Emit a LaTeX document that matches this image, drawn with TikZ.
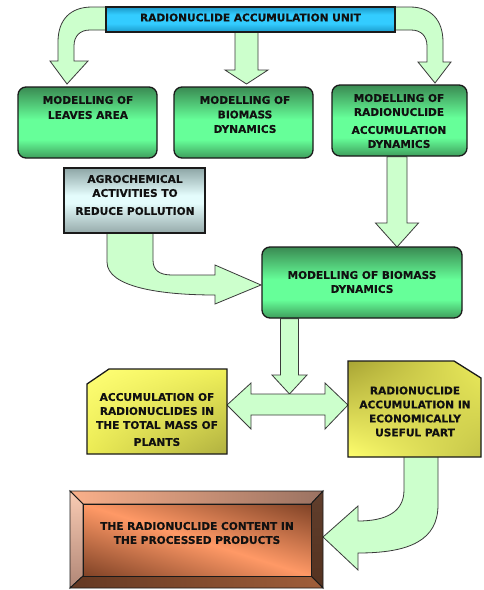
\documentclass[tikz,border=0pt]{standalone}
\usepackage{fontspec}
\setmainfont{DejaVu Sans}[BoldFeatures={FakeBold=0.3}]
\usetikzlibrary{calc,shadings}

% palette
\definecolor{arrowgreen}{HTML}{CCFFCC}
\definecolor{arrowedge}{HTML}{3A3A3A}
\definecolor{boxedge}{HTML}{1A1A1A}
\definecolor{textcol}{HTML}{111111}
\definecolor{gtop}{HTML}{3A8A52}
\definecolor{glight}{HTML}{66FF99}
\definecolor{gbot}{HTML}{3E9E5C}
\definecolor{btop}{HTML}{1B98C8}
\definecolor{blight}{HTML}{33CCFF}
\definecolor{bbot}{HTML}{1A9ACA}
\definecolor{atop}{HTML}{8EA6A6}
\definecolor{alight}{HTML}{E4FCFC}
\definecolor{abot}{HTML}{96AAAA}

% vertical shadings: path spans 25bp (bottom) .. 75bp (top)
\pgfdeclareverticalshading{greenshade}{100bp}{color(0bp)=(gbot); color(25bp)=(gbot);
  color(38bp)=(glight); color(52bp)=(glight); color(75bp)=(gtop); color(100bp)=(gtop)}
\pgfdeclareverticalshading{blueshade}{100bp}{color(0bp)=(bbot); color(25bp)=(bbot);
  color(42bp)=(blight); color(60bp)=(blight); color(75bp)=(btop); color(100bp)=(btop)}
\pgfdeclareverticalshading{agroshade}{100bp}{color(0bp)=(abot); color(25bp)=(abot);
  color(48bp)=(alight); color(54bp)=(alight); color(75bp)=(atop); color(100bp)=(atop)}

% copper panel: bright band along the falling diagonal, dark towards
% the upper right and lower left corners
\pgfdeclarefunctionalshading{coppershade}{\pgfpoint{0bp}{0bp}}{\pgfpoint{100bp}{100bp}}{}{%
  add 100 sub 50 div abs dup 1 gt {pop 1} if
  dup dup -0.5 mul 1 add 3 1 roll -0.34 mul 0.6 add exch -0.25 mul 0.4 add}

\pgfdeclarelayer{paper}
\pgfdeclarelayer{arrowlayer}
\pgfdeclarelayer{boxlayer}
\pgfsetlayers{paper,arrowlayer,boxlayer,main}

\newcommand{\boxfont}{\fontsize{10.6}{14}\selectfont\bfseries}

% straight downward block arrow: #1 start (gives y), #2 tip, #3 half shaft, #4 half head, #5 head length
\newcommand{\vblockarrow}[5]{%
  \path[blockarrow] let \p1=#1, \p2=#2 in
    (\x2-#3pt,\y1) -- (\x2-#3pt,\y2+#5pt) -- (\x2-#4pt,\y2+#5pt) -- (\x2,\y2)
    -- (\x2+#4pt,\y2+#5pt) -- (\x2+#3pt,\y2+#5pt) -- (\x2+#3pt,\y1) -- cycle;}

\tikzset{
  blockarrow/.style={fill=arrowgreen, draw=arrowedge, line width=0.8pt, line join=miter},
  boxline/.style={draw=boxedge, line width=1.3pt},
  greenbox/.style={boxline, rounded corners=8pt, shading=greenshade,
    minimum width=139pt, minimum height=71pt, inner sep=0pt},
  bluebox/.style={boxline, line width=1.1pt, shading=blueshade,
    minimum width=289pt, minimum height=25pt, inner sep=0pt},
  agrobox/.style={boxline, shading=agroshade,
    minimum width=141pt, minimum height=65pt, inner sep=0pt},
  holder/.style={inner sep=0pt, outer sep=0pt},
  boxtext/.style={font=\boxfont, text=textcol, align=center, inner sep=0pt},
  bevel/.style={draw=boxedge, line width=0.9pt, line join=miter},
}

\begin{document}
\begin{tikzpicture}[x=1pt,y=-1pt]
\begin{pgfonlayer}{paper}
  \fill[white] (0,0) rectangle (483,590);
\end{pgfonlayer}
\useasboundingbox (0,0) rectangle (483,590);

% ---------- boxes ----------
\node[bluebox]  (top)  at (250.5,19.5) {};
\node[greenbox] (g1)   at (87.5,122.5) {};
\node[greenbox] (g2)   at (243.5,122.5) {};
\node[greenbox, minimum width=135pt] (g3) at (399.5,120.5) {};
\node[agrobox]  (agro) at (134.5,200.5) {};
\node[greenbox, minimum width=200pt] (bio) at (362,282.5) {};
\node[holder, minimum width=140pt, minimum height=85pt] (yl) at (157,411.5) {};
\node[holder, minimum width=133pt, minimum height=96pt] (yr) at (414.5,409) {};
\node[holder, minimum width=253pt, minimum height=97pt] (prod) at (196.5,539.5) {};

% snipped yellow boxes and the bevelled product box
\begin{pgfonlayer}{boxlayer}
  \path[boxline, upper left={rgb,255:red,255;green,255;blue,118},
        upper right={rgb,255:red,240;green,240;blue,88},
        lower left={rgb,255:red,236;green,236;blue,84},
        lower right={rgb,255:red,176;green,176;blue,64}]
    (yl.south west) -- ($(yl.north west)+(0,15)$) -- ($(yl.north west)+(22,0)$)
    -- (yl.north east) -- (yl.south east) -- cycle;
  \path[boxline, upper left={rgb,255:red,168;green,164;blue,52},
        upper right={rgb,255:red,236;green,236;blue,92},
        lower left={rgb,255:red,255;green,255;blue,110},
        lower right={rgb,255:red,196;green,196;blue,72}]
    (yr.south west) -- (yr.north west) -- ($(yr.north east)+(-27,0)$)
    -- ($(yr.north east)+(0,17)$) -- (yr.south east) -- cycle;

  \coordinate (pnw) at ($(prod.north west)+(13,13)$);
  \coordinate (pne) at ($(prod.north east)+(-12,13)$);
  \coordinate (pse) at ($(prod.south east)+(-12,-12)$);
  \coordinate (psw) at ($(prod.south west)+(13,-12)$);
  \path[bevel, left color={rgb,255:red,250;green,176;blue,138},
        right color={rgb,255:red,154;green,114;blue,98}]
    (prod.north west) -- (prod.north east) -- (pne) -- (pnw) -- cycle;
  \path[bevel, top color={rgb,255:red,250;green,204;blue,180},
        bottom color={rgb,255:red,176;green,134;blue,118}]
    (prod.north west) -- (pnw) -- (psw) -- (prod.south west) -- cycle;
  \path[bevel, top color={rgb,255:red,96;green,62;blue,44},
        bottom color={rgb,255:red,84;green,50;blue,32}]
    (prod.north east) -- (prod.south east) -- (pse) -- (pne) -- cycle;
  \path[bevel, left color={rgb,255:red,100;green,56;blue,34},
        right color={rgb,255:red,160;green,94;blue,58}]
    (prod.south west) -- (psw) -- (pse) -- (prod.south east) -- cycle;
  \path[bevel, shading=coppershade]
    (pnw) -- (pne) -- (pse) -- (psw) -- cycle;
\end{pgfonlayer}

% ---------- texts ----------
\node[boxtext] (topT)  at (250.5,17.5) {RADIONUCLIDE ACCUMULATION UNIT};
\node[boxtext] (g1T)   at (88,107.5)   {MODELLING OF\\[1pt]LEAVES AREA};
\node[boxtext] (g2T)   at (245,114.5)  {MODELLING OF\\[0.5pt]BIOMASS\\[0.5pt]DYNAMICS};
\node[boxtext] (g3T)   at (399,121)    {MODELLING OF\\RADIONUCLIDE\\[4pt]ACCUMULATION\\DYNAMICS};
\node[boxtext] (agroT) at (135,195)    {AGROCHEMICAL\\ACTIVITIES TO\\[4pt]REDUCE POLLUTION};
\node[boxtext] (bioT)  at (362,282)    {MODELLING OF BIOMASS\\DYNAMICS};
\node[boxtext] (ylT)   at (157,419.5)  {ACCUMULATION OF\\RADIONUCLIDES IN\\THE TOTAL MASS OF\\[3pt]PLANTS};
\node[boxtext] (yrT)   at (415,411.5)  {RADIONUCLIDE\\ACCUMULATION IN\\ECONOMICALLY\\USEFUL PART};
\node[boxtext] (prodT) at (197,533)    {THE RADIONUCLIDE CONTENT IN\\THE PROCESSED PRODUCTS};

% ---------- block arrows ----------
\coordinate (tipA) at (246.5,84);
\coordinate (tipB) at (397,247);
\coordinate (tipC) at (289.5,394);
\coordinate (dblmid) at (288,405);
\begin{pgfonlayer}{arrowlayer}
  % unit -> leaves area (curving left)
  \path[blockarrow] (110,7) -- (92,7) .. controls (70,7) and (58,20) .. (58,42)
    -- (58,61) -- (50,61) -- (67,84) -- (88,61) -- (74,61) -- (74,46)
    .. controls (74,36) and (80,30) .. (90,30) -- (110,30) -- cycle;
  % unit -> radionuclide accumulation dynamics (curving right)
  \path[blockarrow] (391,7) -- (410,7) .. controls (431,7) and (443,20) .. (443,42)
    -- (443,62) -- (451,62) -- (435,83) -- (418,62) -- (427,62) -- (427,46)
    .. controls (427,36) and (421,30) .. (411,30) -- (391,30) -- cycle;
  % unit -> biomass dynamics
  \vblockarrow{(top.south)}{(tipA)}{11.5}{21.5}{14}
  % accumulation dynamics -> biomass dynamics
  \vblockarrow{(g3.south)}{(tipB)}{10}{21.5}{24}
  % biomass dynamics -> accumulation pair
  \vblockarrow{(bio.south)}{(tipC)}{9}{17.5}{19}
  % agrochemical activities -> biomass dynamics
  \path[blockarrow] (107,231) -- (107,262) .. controls (107,287) and (160,295) .. (215,295)
    -- (215,304) -- (261,285) -- (215,265) -- (215,275) -- (172,275)
    .. controls (159,275) and (153,270) .. (153,260) -- (153,231) -- cycle;
  % two-way arrow between the yellow boxes
  \path[blockarrow] let \p1=(yl.east |- dblmid), \p2=(yr.west |- dblmid) in
    (\p1) -- (\x1+24pt,\y1+22pt) -- (\x1+24pt,\y1+11pt) -- (\x2-23pt,\y1+11pt)
    -- (\x2-23pt,\y1+22pt) -- (\p2) -- (\x2-23pt,\y1-24pt) -- (\x2-23pt,\y1-10pt)
    -- (\x1+24pt,\y1-10pt) -- (\x1+24pt,\y1-24pt) -- cycle;
  % useful part -> processed products
  \path[blockarrow] (404,455) -- (404,490) .. controls (404,512) and (386,521) .. (358,521)
    -- (358,506) -- (323,537) -- (358,570) -- (358,553)
    .. controls (410,553) and (438,540) .. (438,505) -- (438,455) -- cycle;
\end{pgfonlayer}
\end{tikzpicture}
\end{document}
